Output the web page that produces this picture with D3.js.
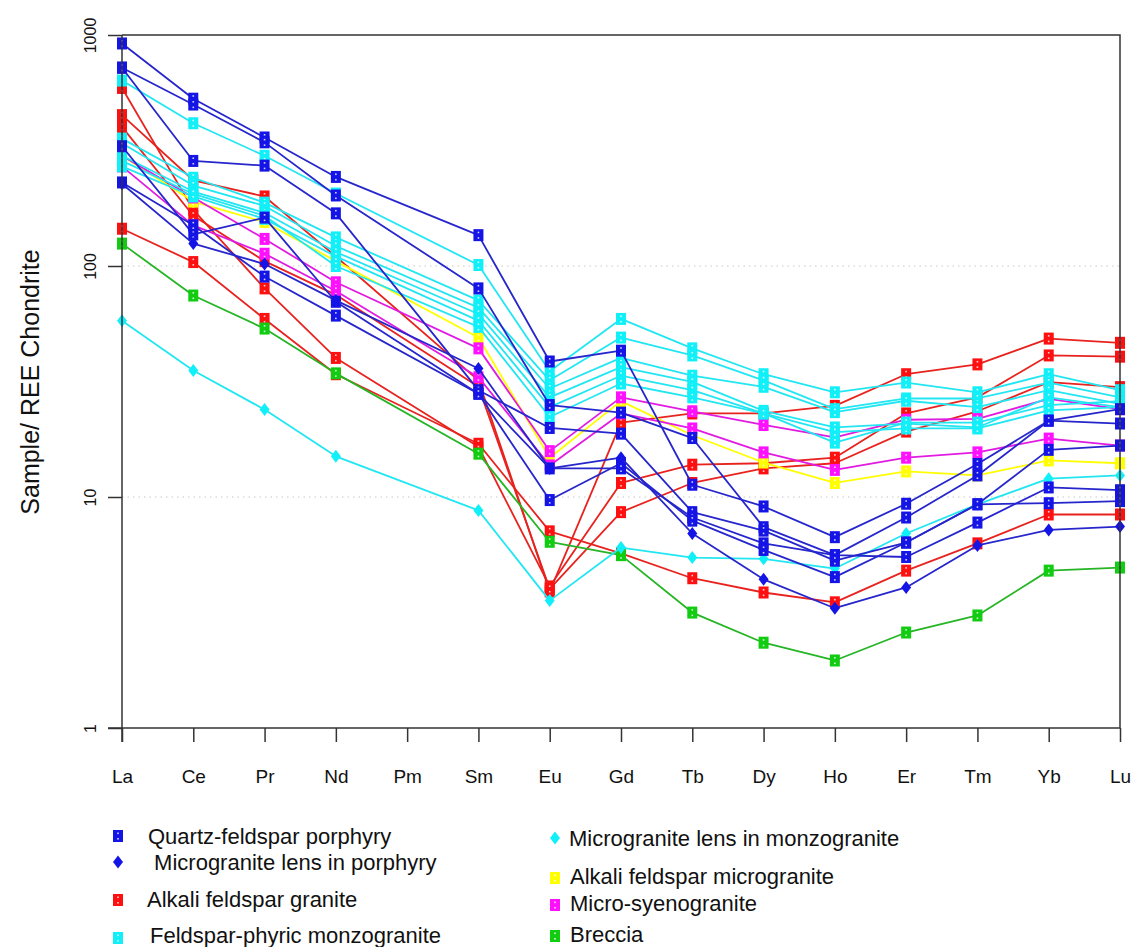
<!DOCTYPE html>
<html>
<head>
<meta charset="utf-8">
<script src="https://cdn.jsdelivr.net/npm/d3@7"></script>
<style>
  body { margin: 0; background: #fff; }
  text { font-family: "Liberation Sans", Arial, sans-serif; fill: #111; }
</style>
</head>
<body>
<div id="chart"></div>
<script>
// REE elements on the x axis (Pm has no data)
const elements = ["La", "Ce", "Pr", "Nd", "Pm", "Sm", "Eu", "Gd", "Tb", "Dy", "Ho", "Er", "Tm", "Yb", "Lu"];
const yTicks = [1, 10, 100, 1000];
const gridValues = [10, 100];

// chondrite normalised values, one row per sample
const quartzFeldsparPorphyry = [
  [919, 530, 360, 243, null, 136, 38.6, 43, 11.3, 9.1, 6.7, 9.35, 13.9, 21.4, 24],
  [722, 500, 343, 202, null, 80, 25, 23.2, 18, 7.4, 5.6, 8.15, 12.4, 21.4, 20.8],
  [722, 285, 272, 169, null, 29, 19.9, 18.8, 8.6, 7.15, 5.3, 6.35, 9.3, 16, 16.7],
  [330, 137, 162, 70, null, 28, 13.3, 13.3, 8.15, 6.3, 5.6, 5.5, 7.75, 11, 10.7],
  [230, 150, 90, 61, null, 28, 9.7, 14, 7.9, 5.9, 4.5, 6.35, 9.3, 9.4, 9.6]
];
const microgranitePorphyry = [
  [227, 125, 102, 71, null, 36, 13.3, 14.8, 6.95, 4.4, 3.3, 4.06, 6.17, 7.2, 7.45]
];
const alkaliFeldsparGranite = [
  [590, 175, 80, 40, null, 16.5, 4.1, 11.5, 13.8, 14, 14.8, 23, 27, 41, 40.5],
  [450, 235, 200, 110, null, 32, 3.9, 21, 23, 23, 24.8, 34, 37.5, 48.5, 46.5],
  [400, 165, 105, 75, null, 30, 4.0, 8.6, 11.5, 13.3, 14, 19.2, 23.5, 31.4, 29.9],
  [145, 104, 59, 34, null, 17, 7.1, 5.7, 4.45, 3.86, 3.5, 4.8, 6.3, 8.4, 8.4]
];
const feldsparPhyricMonzogranite = [
  [635, 415, 300, 206, null, 101, 35, 59, 44, 34, 28.4, 31.3, 28.4, 34, 29],
  [356, 241, 188, 133, null, 71, 32, 49, 41, 32, 24, 26.7, 26.7, 31.3, 27],
  [340, 223, 182, 122, null, 66, 29.5, 40, 33.5, 30, 23.3, 26.1, 24.5, 29, 25.3],
  [300, 210, 170, 115, null, 62, 27, 36.5, 31.5, 23.6, 20, 20.8, 20, 27, 24.5],
  [270, 200, 160, 110, null, 58, 24.5, 33.5, 29, 23, 19.1, 19.8, 19.8, 23.7, 24.5],
  [285, 205, 165, 100, null, 54.5, 22.2, 31, 27, 23, 17.2, 21, 21, 25, 26]
];
const microgranitemonzogranite = [
  [58, 35.3, 23.9, 15, null, 8.75, 3.56, 6.04, 5.47, 5.4, 4.9, 6.95, 9.3, 12, 12.4]
];
const alkaliFeldsparMicrogranite = [
  [300, 190, 155, 105, null, 49, 14.8, 26, 18.5, 14.1, 11.5, 12.9, 12.4, 14.4, 14]
];
const microSyenogranite = [
  [300, 198, 131, 85, null, 44, 15.8, 27, 23.5, 20.5, 18.1, 21.6, 21.8, 26.6, 24],
  [270, 150, 113, 78, null, 33, 13.7, 23, 19.8, 15.6, 13.1, 14.8, 15.6, 17.9, 16.7]
];
const breccia = [
  [125, 74.5, 53.6, 34.3, null, 15.4, 6.4, 5.6, 3.16, 2.34, 1.96, 2.59, 3.07, 4.8, 4.95]
];

// groups in drawing order
const groups = [
  { name: "Alkali feldspar granite", rows: alkaliFeldsparGranite, line: "#e8231f", fill: "#ff1010", shape: "square" },
  { name: "Breccia", rows: breccia, line: "#25b525", fill: "#11cc11", shape: "square" },
  { name: "Alkali feldspar microgranite", rows: alkaliFeldsparMicrogranite, line: "#ffff00", fill: "#ffff00", shape: "square" },
  { name: "Micro-syenogranite", rows: microSyenogranite, line: "#e21be2", fill: "#ff10ff", shape: "square" },
  { name: "Feldspar-phyric monzogranite", rows: feldsparPhyricMonzogranite, line: "#22e6f2", fill: "#11f0f8", shape: "square" },
  { name: "Microgranite lens in monzogranite", rows: microgranitemonzogranite, line: "#22e6f2", fill: "#11f0f8", shape: "diamond" },
  { name: "Quartz-feldspar porphyry", rows: quartzFeldsparPorphyry, line: "#2626cc", fill: "#1414e6", shape: "square" },
  { name: " Microgranite lens in porphyry", rows: microgranitePorphyry, line: "#2626cc", fill: "#1414e6", shape: "diamond" }
];

// legend layout follows the reference (two columns)
const legendItems = [
  { g: 6, x: 118, y: 836, tx: 148, ty: 844 },
  { g: 7, x: 118, y: 862, tx: 148, ty: 870 },
  { g: 0, x: 118, y: 900, tx: 147, ty: 907 },
  { g: 4, x: 118, y: 938, tx: 150, ty: 943 },
  { g: 5, x: 555, y: 838, tx: 569, ty: 846 },
  { g: 2, x: 555, y: 878, tx: 570, ty: 884 },
  { g: 3, x: 555, y: 905, tx: 570, ty: 911 },
  { g: 1, x: 555, y: 936, tx: 570, ty: 942 }
];

const W = 1132, H = 947;
const box = { left: 122, right: 1120, top: 35, bottom: 728 };

const svg = d3.select("#chart").append("svg")
  .attr("width", W)
  .attr("height", H)
  .style("display", "block");

const x = d3.scalePoint().domain(elements).range([box.left, box.right]);
const y = d3.scaleLog().domain([1, 1000]).range([box.bottom, box.top]);

// dotted grid
svg.selectAll(".grid")
  .data(gridValues)
  .join("line")
  .attr("class", "grid")
  .attr("x1", box.left).attr("x2", box.right)
  .attr("y1", (d) => y(d)).attr("y2", (d) => y(d))
  .attr("stroke", "#c8c8c8")
  .attr("stroke-width", 1)
  .attr("stroke-dasharray", "1.5,4");

// marker drawing
function drawMarker(sel, shape, fill) {
  if (shape === "diamond") {
    sel.append("path")
      .attr("d", "M0,-6.5L5,0L0,6.5L-5,0Z")
      .attr("fill", fill);
  } else {
    sel.append("rect")
      .attr("x", -5).attr("y", -6)
      .attr("width", 10).attr("height", 12)
      .attr("fill", fill);
    sel.append("rect")
      .attr("x", -0.8).attr("y", -3.5)
      .attr("width", 1.6).attr("height", 1.6)
      .attr("fill", "#fff").attr("opacity", 0.8);
    sel.append("rect")
      .attr("x", -0.8).attr("y", 2)
      .attr("width", 1.6).attr("height", 1.6)
      .attr("fill", "#fff").attr("opacity", 0.8);
  }
}

const line = d3.line()
  .x((d) => x(d.el))
  .y((d) => y(d.v));

const plot = svg.append("g");

groups.forEach((grp) => {
  grp.rows.forEach((row) => {
    const pts = row
      .map((v, i) => ({ el: elements[i], v: v }))
      .filter((d) => d.v != null);

    plot.append("path")
      .datum(pts)
      .attr("fill", "none")
      .attr("stroke", grp.line)
      .attr("stroke-width", 1.8)
      .attr("stroke-linejoin", "round")
      .attr("d", line);

    plot.selectAll(null)
      .data(pts)
      .join("g")
      .attr("transform", (d) => `translate(${x(d.el)},${y(d.v)})`)
      .each(function () {
        drawMarker(d3.select(this), grp.shape, grp.fill);
      });
  });
});

// frame: top and right borders
svg.append("path")
  .attr("d", `M${box.left},${box.top}H${box.right}V${box.bottom}`)
  .attr("fill", "none")
  .attr("stroke", "#333")
  .attr("stroke-width", 1.5);

// y axis
const yAxis = svg.append("g")
  .attr("transform", `translate(${box.left},0)`)
  .call(d3.axisLeft(y).tickValues(yTicks).tickFormat(d3.format("d")).tickSize(14).tickSizeOuter(0));
yAxis.select(".domain").attr("stroke", "#333").attr("stroke-width", 1.5)
  .attr("d", `M0,${box.top}V${box.bottom + 14}`);
yAxis.selectAll(".tick line").attr("stroke", "#333").attr("stroke-width", 1.5);
yAxis.selectAll(".tick text")
  .attr("x", 0).attr("dy", 0)
  .attr("transform", "translate(-26,0) rotate(-90)")
  .attr("text-anchor", "middle")
  .style("font-size", "16px")
  .style("font-family", "'Liberation Sans', Arial, sans-serif")
  .attr("fill", "#111");

// x axis
const xAxis = svg.append("g")
  .attr("transform", `translate(0,${box.bottom})`)
  .call(d3.axisBottom(x).tickSize(14).tickSizeOuter(0));
xAxis.select(".domain").attr("stroke", "#333").attr("stroke-width", 1.5)
  .attr("d", `M${box.left - 14},0H${box.right}`);
xAxis.selectAll(".tick line").attr("stroke", "#333").attr("stroke-width", 1.5);
xAxis.selectAll(".tick text")
  .attr("y", 55).attr("dy", 0)
  .style("font-size", "19px")
  .style("font-family", "'Liberation Sans', Arial, sans-serif")
  .attr("fill", "#111");

// y title
svg.append("text")
  .attr("transform", "translate(39,382) rotate(-90)")
  .attr("text-anchor", "middle")
  .style("font-size", "25px")
  .text("Sample/ REE Chondrite");

// legend
const legend = svg.append("g");
legendItems.forEach((it) => {
  const grp = groups[it.g];
  const m = legend.append("g").attr("transform", `translate(${it.x},${it.y})`);
  drawMarker(m, grp.shape, grp.fill);
  legend.append("text")
    .attr("x", it.tx)
    .attr("y", it.ty)
    .attr("xml:space", "preserve")
    .style("font-size", "22px")
    .text(grp.name);
});
</script>
</body>
</html>
